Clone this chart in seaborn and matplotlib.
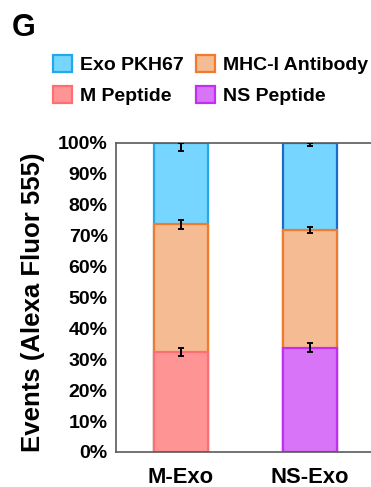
import numpy as np
import pandas as pd
import seaborn as sns
import matplotlib.pyplot as plt
from matplotlib.patches import Patch

# values (percent of events)
categories = ["M-Exo", "NS-Exo"]
peptide = [32.3, 33.8]
mhc = [41.4, 38.0]
exo = [26.3, 28.2]
peptide_err = [1.2, 1.4]
mhc_err = [1.5, 0.9]
exo_err = [1.3, 0.5]
yticks = [0, 10, 20, 30, 40, 50, 60, 70, 80, 90, 100]

sns.set_style("white")
plt.rcParams['font.family'] = ['Liberation Sans', 'DejaVu Sans']
plt.rcParams['font.weight'] = 'bold'
plt.rcParams['text.color'] = 'black'
plt.rcParams['axes.labelcolor'] = 'black'
plt.rcParams['xtick.color'] = 'black'
plt.rcParams['ytick.color'] = 'black'

fig = plt.figure(figsize=(3.71, 4.87), dpi=100)
ax = fig.add_axes([0.3127, 0.0719, 0.698, 0.6345])

df = pd.DataFrame({"cat": categories, "pep": peptide, "mhc": mhc, "exo": exo})
df["mhc_top"] = df["pep"] + df["mhc"]
df["exo_top"] = df["mhc_top"] + df["exo"]

bw = 0.42
# stacked bars drawn from the top down (cumulative heights)
n0 = len(ax.patches)
sns.barplot(data=df, x="cat", y="exo_top", color="#76D6FF", width=bw, ax=ax,
            linewidth=1.6, errorbar=None, saturation=1)
for p, ec in zip(ax.patches[n0:], ["#22A9EA", "#1B6CC6"]):
    p.set_edgecolor(ec)

n0 = len(ax.patches)
sns.barplot(data=df, x="cat", y="mhc_top", color="#F5BB93", width=bw, ax=ax,
            linewidth=1.6, errorbar=None, saturation=1)
for p in ax.patches[n0:]:
    p.set_edgecolor("#F07B2A")

n0 = len(ax.patches)
sns.barplot(data=df, x="cat", y="pep", hue="cat", palette=["#FF9494", "#D874F8"],
            width=bw, ax=ax, linewidth=1.6, errorbar=None, saturation=1, legend=False)
for p, ec in zip(ax.patches[n0:], ["#FF6E72", "#C22EF2"]):
    p.set_edgecolor(ec)

# error bars at the top of each segment
xs = np.arange(len(categories))
for top, err in [(df["pep"], peptide_err), (df["mhc_top"], mhc_err), (df["exo_top"] - np.array(exo_err), exo_err)]:
    ax.errorbar(xs, top, yerr=err, fmt="none", ecolor="black", elinewidth=1.4,
                capsize=2.5, capthick=1.4, zorder=5)

ax.set_xlim(-0.5, 1.5)
ax.set_ylim(0, 100)
ax.set_yticks(yticks)
ax.set_yticklabels([f"{t}%" for t in yticks])
ax.tick_params(axis="y", length=0, labelsize=14, pad=6)
ax.tick_params(axis="x", length=0, labelsize=15.8, pad=10.5)
ax.set_xlabel("")
ax.set_ylabel("Events (Alexa Fluor 555)", fontsize=18.5, fontweight="bold", labelpad=9)
ax.yaxis.set_label_coords(-0.275, 0.485)
for s in ax.spines.values():
    s.set_color("#5a5a5a")
    s.set_linewidth(1.2)

handles = [
    Patch(facecolor="#76D6FF", edgecolor="#22A9EA", linewidth=1.6, label="Exo PKH67"),
    Patch(facecolor="#FF9494", edgecolor="#FF6E72", linewidth=1.6, label="M Peptide"),
    Patch(facecolor="#F5BB93", edgecolor="#F07B2A", linewidth=1.6, label="MHC-I Antibody"),
    Patch(facecolor="#D874F8", edgecolor="#C22EF2", linewidth=1.6, label="NS Peptide"),
]
fig.legend(handles=handles, ncol=2, loc="upper left", bbox_to_anchor=(53 / 371, 1 - 55 / 487),
           frameon=False, handlelength=1.0, handleheight=1.0,
           handletextpad=0.4, columnspacing=0.6, labelspacing=0.6, borderpad=0, borderaxespad=0,
           prop={"weight": "bold", "size": 14})

fig.text(12 / 371, 1 - 13 / 487, "G", fontsize=22, fontweight="bold", va="top", ha="left")

plt.savefig("out.png", dpi=100)
